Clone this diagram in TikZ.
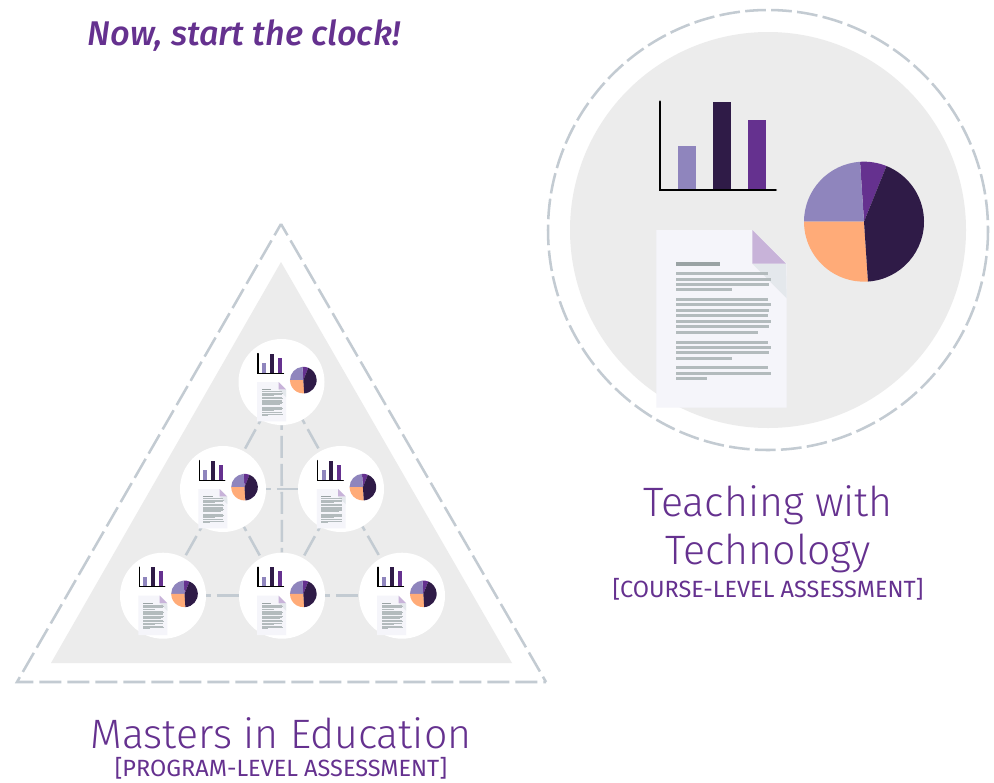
\documentclass[tikz,border=0pt]{standalone}
\usepackage{fontspec}
\setmainfont{Fira Sans Light}[BoldItalicFont={Fira Sans Medium Italic}]
\newfontfamily\subfont{Fira Sans}
\definecolor{pur}{HTML}{65318F}
\definecolor{lil}{HTML}{8F85BD}
\definecolor{ink}{HTML}{2F1B47}
\definecolor{ora}{HTML}{FFAB78}
\definecolor{dsh}{HTML}{C3CBD2}
\definecolor{pan}{HTML}{ECECEC}
\definecolor{pap}{HTML}{F5F5FA}
\definecolor{txl}{HTML}{B3BBBD}
\definecolor{txh}{HTML}{9AA3A4}
\definecolor{fol}{HTML}{C8B3D9}
\definecolor{fsh}{HTML}{E4E8EC}
\newcommand\txtbar[2]{\fill[txl] (108,#1) rectangle (#2,#1+9);}
\newcommand\pieslice[3]{\fill[#1] (672,395) -- +(-#2:180) arc[start angle=-#2,end angle=-#3,radius=180] -- cycle;}
\newcommand\iconart[4]{%
\begin{scope}[shift={(#1,#2)},scale=#3]
\begin{scope}[shift={(-128,-140)},scale=0.33333]
\fill[lil] (114,168) rectangle (168,298);
\fill[ink] (219,36) rectangle (273,298);
\fill[pur] (324,90) rectangle (378,298);
\draw[black,line width=#4,line cap=round] (60,35) -- (60,300) -- (407,300);
\pieslice{pur}{68}{93.8}
\pieslice{lil}{93.8}{180}
\pieslice{ora}{180}{273.8}
\pieslice{ink}{-86.2}{68}
\fill[pap] (49,420) -- (337,420) -- (440,521) -- (440,953) -- (49,953) -- cycle;
\fill[fsh] (337,521) -- (438,521) -- (440,625) -- cycle;
\fill[fol] (337,420) -- (438,521) -- (337,521) -- cycle;
\fill[txh] (108,516) rectangle (240,528);
\txtbar{546}{384}\txtbar{564}{393}\txtbar{579}{387}\txtbar{594}{276}
\txtbar{624}{384}\txtbar{639}{393}\txtbar{657}{387}\txtbar{672}{384}
\txtbar{690}{393}\txtbar{705}{387}\txtbar{723}{354}
\txtbar{753}{384}\txtbar{768}{393}\txtbar{783}{387}\txtbar{801}{276}
\txtbar{828}{384}\txtbar{846}{393}\txtbar{861}{201}
\end{scope}
\end{scope}}
\tikzset{
  x=0.75pt,y=-0.75pt,
  circledash/.style={draw=dsh,line width=1.9pt,dash pattern=on 15.5pt off 4pt},
  tridash/.style={draw=dsh,line width=1.9pt,line join=miter,dash pattern=on 16.5pt off 4.5pt,dash phase=6.75pt},
  linkdash/.style={draw=dsh,line width=1.9pt,dash pattern=on 16.5pt off 4.5pt,dash phase=13pt},
  hub/.style={circle,fill=white,minimum size=64.5pt,inner sep=0pt},
  lbl/.style={text=pur,inner sep=0pt,anchor=base},
}
\begin{document}
\begin{tikzpicture}
\useasboundingbox (0,0) rectangle (994,782);
\fill[white] (0,0) rectangle (994,782);
% course circle
\coordinate (cc) at (768,230);
\fill[pan] (cc) circle[radius=198];
\draw[circledash] (cc) circle[radius=220];
\iconart{768}{230}{1}{2.1pt}
% program triangle
\coordinate (ta) at (281,224);
\coordinate (tl) at (17,682);
\coordinate (tr) at (546,682);
\fill[pan] (281,262) -- (512,663) -- (51,663) -- cycle;
\draw[tridash] (ta) -- (tl) -- (tr);
\draw[tridash] (ta) -- (tr);
\node[hub] (a) at (281.5,382) {};
\node[hub] (b) at (223,489) {};
\node[hub] (c) at (341,489) {};
\node[hub] (d) at (163,595.7) {};
\node[hub] (e) at (282,595.7) {};
\node[hub] (f) at (402,595.7) {};
\draw[linkdash] (a) -- (b);
\draw[linkdash] (a) -- (c);
\draw[linkdash] (a) -- (e);
\draw[linkdash] (b) -- (c);
\draw[linkdash] (b) -- (d);
\draw[linkdash] (b) -- (e);
\draw[linkdash] (c) -- (e);
\draw[linkdash] (c) -- (f);
\draw[linkdash] (d) -- (e);
\draw[linkdash] (e) -- (f);
\iconart{282}{382}{0.222}{0.8pt}
\iconart{223.2}{489}{0.222}{0.8pt}
\iconart{341.6}{489}{0.222}{0.8pt}
\iconart{163.2}{595.7}{0.222}{0.8pt}
\iconart{282}{595.7}{0.222}{0.8pt}
\iconart{402}{595.7}{0.222}{0.8pt}
% texts
\node[lbl] (t0) at (244,45) {\fontsize{25.7pt}{30pt}\selectfont\bfseries\itshape Now, start the clock!};
\node[lbl] (t1) at (768,516) {\fontsize{30.8pt}{38pt}\selectfont Teaching with};
\node[lbl] (t2) at (768,564) {\fontsize{30.8pt}{38pt}\selectfont Technology};
\node[lbl] (t3) at (768,597) {\fontsize{17.6pt}{20pt}\selectfont\subfont [COURSE-LEVEL ASSESSMENT]};
\node[lbl] (t4) at (281,748) {\fontsize{30.8pt}{38pt}\selectfont Masters in Education};
\node[lbl] (t5) at (281,776) {\fontsize{17.6pt}{20pt}\selectfont\subfont [PROGRAM-LEVEL ASSESSMENT]};
\end{tikzpicture}
\end{document}
